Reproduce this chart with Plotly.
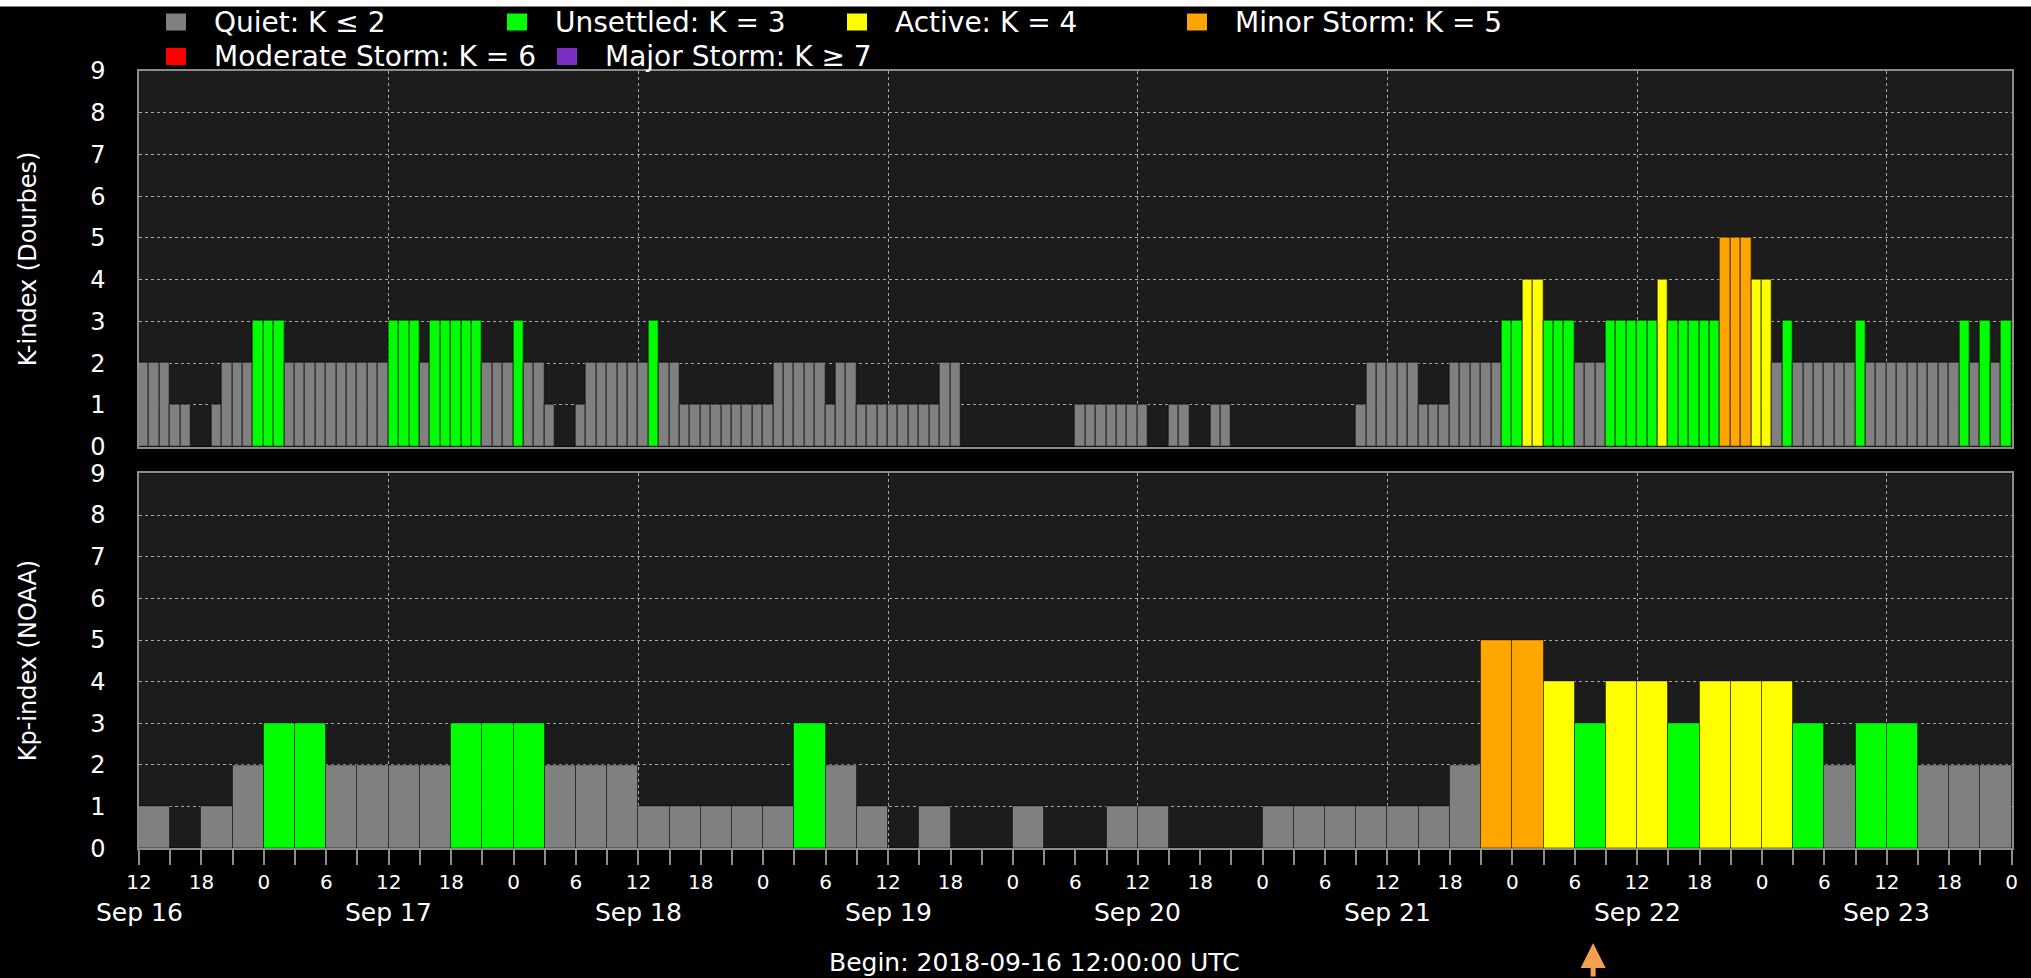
import plotly.graph_objects as go
import pandas as pd

# ---------------- data ----------------
start_time = "2018-09-16 12:00:00"
arrow_time = "2018-09-22 07:46:00"

# Dourbes local K-index, hourly values (180 h from start)
k_dourbes = [
    2, 2, 2, 1, 1, 0, 0, 1, 2, 2,
    2, 3, 3, 3, 2, 2, 2, 2, 2, 2,
    2, 2, 2, 2, 3, 3, 3, 2, 3, 3,
    3, 3, 3, 2, 2, 2, 3, 2, 2, 1,
    0, 0, 1, 2, 2, 2, 2, 2, 2, 3,
    2, 2, 1, 1, 1, 1, 1, 1, 1, 1,
    1, 2, 2, 2, 2, 2, 1, 2, 2, 1,
    1, 1, 1, 1, 1, 1, 1, 2, 2, 0,
    0, 0, 0, 0, 0, 0, 0, 0, 0, 0,
    1, 1, 1, 1, 1, 1, 1, 0, 0, 1,
    1, 0, 0, 1, 1, 0, 0, 0, 0, 0,
    0, 0, 0, 0, 0, 0, 0, 1, 2, 2,
    2, 2, 2, 1, 1, 1, 2, 2, 2, 2,
    2, 3, 3, 4, 4, 3, 3, 3, 2, 2,
    2, 3, 3, 3, 3, 3, 4, 3, 3, 3,
    3, 3, 5, 5, 5, 4, 4, 2, 3, 2,
    2, 2, 2, 2, 2, 3, 2, 2, 2, 2,
    2, 2, 2, 2, 2, 3, 2, 3, 2, 3,
]

# NOAA planetary Kp-index, 3-hourly values (60 intervals)
kp_noaa = [
    1, 0, 1, 2, 3, 3, 2, 2, 2, 2,
    3, 3, 3, 2, 2, 2, 1, 1, 1, 1,
    1, 3, 2, 1, 0, 1, 0, 0, 1, 0,
    0, 1, 1, 0, 0, 0, 1, 1, 1, 1,
    1, 1, 2, 5, 5, 4, 3, 4, 4, 3,
    4, 4, 4, 3, 2, 3, 3, 2, 2, 2,
]

legend_labels = ["Quiet: K ≤ 2", "Unsettled: K = 3", "Active: K = 4",
                 "Minor Storm: K = 5", "Moderate Storm: K = 6", "Major Storm: K ≥ 7"]
level_colors = ["#808080", "#00ff00", "#ffff00", "#ffa500", "#ff0000", "#7b2fc4"]
hour_tick_labels = ["12", "", "18", "", "0", "", "6", ""]   # repeating every 24 h, 3-h ticks
date_labels = ["Sep 16", "Sep 17", "Sep 18", "Sep 19", "Sep 20", "Sep 21", "Sep 22", "Sep 23"]
y_tick_labels = ["0", "1", "2", "3", "4", "5", "6", "7", "8", "9"]
title_top = "K-index (Dourbes)"
title_bottom = "Kp-index (NOAA)"
begin_text = "Begin: 2018-09-16 12:00:00 UTC"

# ---------------- helpers ----------------
W, H = 2031, 978
t0 = pd.Timestamp(start_time)
HOUR = pd.Timedelta(hours=1)
HOUR_MS = 3600 * 1000


def level_index(v):
    if v <= 2:
        return 0
    if v >= 7:
        return 5
    return v - 2


def px_x(p):
    return p / W


def px_y(p):
    return 1 - p / H


k_times = [t0 + (i + 0.5) * HOUR for i in range(len(k_dourbes))]
kp_times = [t0 + (3 * i + 1.5) * HOUR for i in range(len(kp_noaa))]
k_colors = [level_colors[level_index(v)] for v in k_dourbes]
kp_colors = [level_colors[level_index(v)] for v in kp_noaa]

x_end = t0 + len(k_dourbes) * HOUR
tick3 = [t0 + 3 * i * HOUR for i in range(len(kp_noaa) + 1)]
tick3_text = [hour_tick_labels[i % 8] for i in range(len(tick3))]
day_noons = [t0 + 24 * i * HOUR for i in range(len(date_labels))]

font_family = "DejaVu Sans"
grid_color = "#a8a8a8"
frame_color = "#8c8c8c"

x_dom = [px_x(139), px_x(2011.7)]
y_dom_top = [px_y(446.7), px_y(71)]
y_dom_bot = [px_y(848.3), px_y(473.4)]

fig = go.Figure()
fig.add_trace(go.Bar(
    x=k_times, y=k_dourbes, width=HOUR_MS,
    marker=dict(color=k_colors, line=dict(color="rgba(0,0,0,0.4)", width=1.5)),
    xaxis="x", yaxis="y", showlegend=False, name=title_top,
))
fig.add_trace(go.Bar(
    x=kp_times, y=kp_noaa, width=3 * HOUR_MS,
    marker=dict(color=kp_colors, line=dict(color="rgba(0,0,0,0.45)", width=1)),
    xaxis="x2", yaxis="y2", showlegend=False, name=title_bottom,
))

yaxis_common = dict(
    range=[0, 9], tickvals=list(range(10)), ticktext=y_tick_labels,
    showgrid=True, gridcolor=grid_color, griddash="dot", gridwidth=1,
    zeroline=False, ticks="outside", ticklen=27, tickcolor="rgba(0,0,0,0)",
    tickfont=dict(family=font_family, size=24, color="white"),
    showline=True, mirror=True, linecolor=frame_color, linewidth=1.5,
    fixedrange=True, automargin=False,
)

fig.update_layout(
    width=W, height=H, autosize=False,
    margin=dict(l=0, r=0, t=0, b=0, pad=0),
    paper_bgcolor="black", plot_bgcolor="#1c1c1c",
    bargap=0, barmode="overlay", showlegend=False,
    font=dict(family=font_family, color="white"),
    xaxis=dict(
        domain=x_dom, anchor="y", type="date", range=[t0, x_end],
        tickvals=day_noons, showticklabels=False, ticks="",
        showgrid=True, gridcolor=grid_color, griddash="dot", gridwidth=1,
        showline=True, mirror=True, linecolor=frame_color, linewidth=1.5,
        zeroline=False, automargin=False, fixedrange=True,
    ),
    yaxis=dict(domain=y_dom_top, anchor="x", **yaxis_common),
    xaxis2=dict(
        domain=x_dom, anchor="y2", type="date", range=[t0, x_end],
        tickvals=tick3, ticktext=tick3_text,
        ticks="outside", ticklen=15, tickwidth=1.5, tickcolor=frame_color,
        tickfont=dict(family=font_family, size=20, color="white"),
        showgrid=False,
        minor=dict(ticks="inside", ticklen=0, tick0=t0, dtick=24 * HOUR_MS,
                   showgrid=True, gridcolor=grid_color, griddash="dot", gridwidth=1),
        showline=True, mirror=True, linecolor=frame_color, linewidth=1.5,
        zeroline=False, automargin=False, fixedrange=True,
    ),
    yaxis2=dict(domain=y_dom_bot, anchor="x2", **yaxis_common),
)

annotations = []
shapes = []

# white strip across the very top
shapes.append(dict(type="rect", xref="paper", yref="paper", x0=0, x1=1,
                   y0=px_y(6.5), y1=1, fillcolor="white", line=dict(width=0), layer="above"))

# legend (manual, two rows)
legend_pos = [(176, 22), (517, 22), (857, 22), (1197, 22), (176, 56.5), (567, 56.5)]
for (cx, cy), lab, col in zip(legend_pos, legend_labels, level_colors):
    shapes.append(dict(type="rect", xref="paper", yref="paper",
                       x0=px_x(cx - 10), x1=px_x(cx + 10),
                       y0=px_y(cy + 8.5), y1=px_y(cy - 8.5),
                       fillcolor=col, line=dict(width=0)))
    annotations.append(dict(text=lab, xref="paper", yref="paper",
                            x=px_x(cx + 36), y=px_y(cy), xanchor="left", yanchor="middle",
                            showarrow=False, font=dict(family=font_family, size=28, color="white")))

# y-axis titles
for title, dom in [(title_top, y_dom_top), (title_bottom, y_dom_bot)]:
    annotations.append(dict(text=title, xref="paper", yref="paper",
                            x=px_x(27.5), y=(dom[0] + dom[1]) / 2, textangle=-90,
                            xanchor="center", yanchor="middle", showarrow=False,
                            font=dict(family=font_family, size=24, color="white")))

# date labels under hour ticks
for d, lab in zip(day_noons, date_labels):
    annotations.append(dict(text=lab, xref="x2", yref="paper", x=d, y=px_y(912),
                            xanchor="center", yanchor="middle", showarrow=False,
                            font=dict(family=font_family, size=25, color="white")))

# begin text
annotations.append(dict(text=begin_text, xref="paper", yref="paper",
                        x=px_x(1034), y=px_y(962), xanchor="center", yanchor="middle",
                        showarrow=False, font=dict(family=font_family, size=25, color="white")))

# orange arrow marking current time
annotations.append(dict(text="", xref="x2", yref="paper", x=pd.Timestamp(arrow_time), y=px_y(943),
                        showarrow=True, ax=0, ay=45, axref="pixel", ayref="pixel",
                        arrowhead=2, arrowsize=1, arrowwidth=5, arrowcolor="#f5a050"))

fig.update_layout(annotations=annotations, shapes=shapes)

fig.write_html(
    "out.html",
    config={"displayModeBar": False},
    post_script="document.body.style.margin='0';document.body.style.overflow='hidden';document.body.style.background='black';",
)
